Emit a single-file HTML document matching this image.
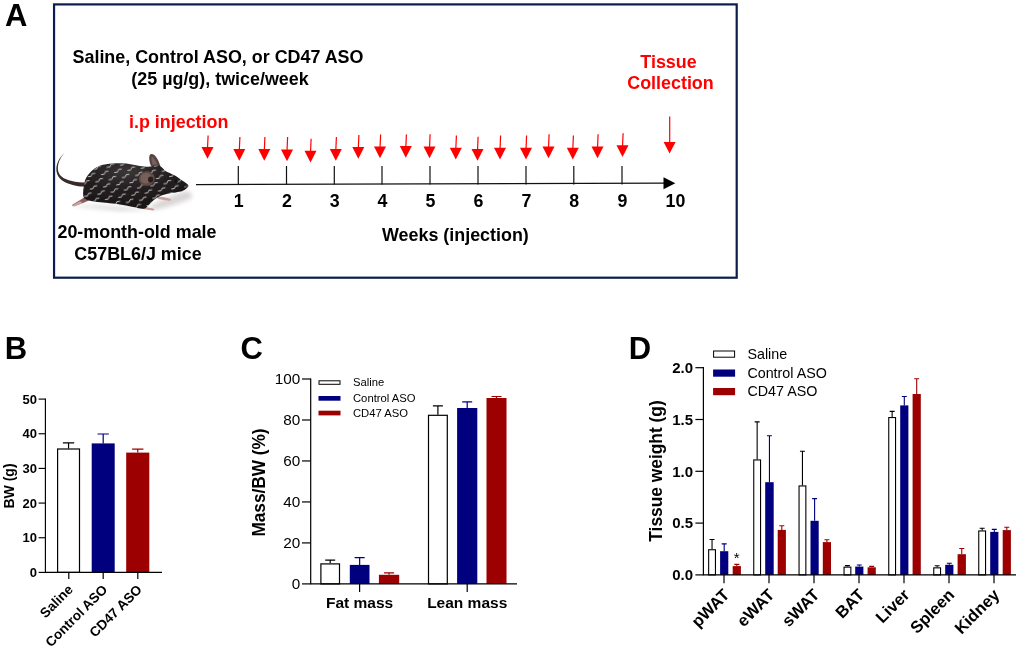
<!DOCTYPE html><html><head><meta charset="utf-8"><title>Figure</title><style>
html,body{margin:0;padding:0;background:#fff}svg{display:block}text{font-family:"Liberation Sans",Arial,sans-serif}.b{font-weight:bold}
</style></head><body>
<svg width="1020" height="649" viewBox="0 0 1020 649">
<rect width="1020" height="649" fill="#fff"/>
<text class="b" x="5" y="25.9" font-size="31">A</text>
<rect x="54.05" y="4.4" width="682.65" height="273.3" fill="none" stroke="#0c1c4c" stroke-width="2.2"/>
<text class="b" x="218" y="63" font-size="17.9" text-anchor="middle">Saline, Control ASO, or CD47 ASO</text>
<text class="b" x="220" y="85" font-size="17.9" text-anchor="middle">(25 µg/g), twice/week</text>
<text class="b" x="129" y="127.5" font-size="17.9" fill="#ff0000">i.p injection</text>
<text class="b" x="668.5" y="68" font-size="17.9" fill="#ff0000" text-anchor="middle">Tissue</text>
<text class="b" x="670.5" y="89.3" font-size="17.9" fill="#ff0000" text-anchor="middle">Collection</text>
<text class="b" x="137" y="237.8" font-size="17.9" text-anchor="middle">20-month-old male</text>
<text class="b" x="138" y="259.5" font-size="17.9" text-anchor="middle">C57BL6/J mice</text>
<text class="b" x="455.4" y="241.2" font-size="17.9" text-anchor="middle">Weeks (injection)</text>
<line x1="196" y1="184.6" x2="664" y2="183.2" stroke="#111" stroke-width="1.3"/>
<polygon points="675.3,183.2 663.5,177.2 663.5,189.2" fill="#000"/>
<line x1="238.3" y1="166" x2="238.3" y2="184.5" stroke="#111" stroke-width="1.2"/>
<text class="b" x="238.8" y="207" font-size="17.8" text-anchor="middle">1</text>
<line x1="286.5" y1="166" x2="286.5" y2="184.5" stroke="#111" stroke-width="1.2"/>
<text class="b" x="287.0" y="207" font-size="17.8" text-anchor="middle">2</text>
<line x1="334.3" y1="166" x2="334.3" y2="184.5" stroke="#111" stroke-width="1.2"/>
<text class="b" x="334.8" y="207" font-size="17.8" text-anchor="middle">3</text>
<line x1="382" y1="166" x2="382" y2="184.5" stroke="#111" stroke-width="1.2"/>
<text class="b" x="382.5" y="207" font-size="17.8" text-anchor="middle">4</text>
<line x1="430" y1="166" x2="430" y2="184.5" stroke="#111" stroke-width="1.2"/>
<text class="b" x="430.5" y="207" font-size="17.8" text-anchor="middle">5</text>
<line x1="478" y1="166" x2="478" y2="184.5" stroke="#111" stroke-width="1.2"/>
<text class="b" x="478.5" y="207" font-size="17.8" text-anchor="middle">6</text>
<line x1="526" y1="166" x2="526" y2="184.5" stroke="#111" stroke-width="1.2"/>
<text class="b" x="526.5" y="207" font-size="17.8" text-anchor="middle">7</text>
<line x1="573.8" y1="166" x2="573.8" y2="184.5" stroke="#111" stroke-width="1.2"/>
<text class="b" x="574.3" y="207" font-size="17.8" text-anchor="middle">8</text>
<line x1="622" y1="166" x2="622" y2="184.5" stroke="#111" stroke-width="1.2"/>
<text class="b" x="622.5" y="207" font-size="17.8" text-anchor="middle">9</text>
<text class="b" x="675.5" y="207" font-size="17.8" text-anchor="middle">10</text>
<line x1="208.1" y1="135.5" x2="207.5" y2="149" stroke="#ff0000" stroke-width="1.2"/>
<polygon points="201.5,147 213.5,147 207.5,158.7" fill="#ff0000"/>
<line x1="239.9" y1="137" x2="239.3" y2="151" stroke="#ff0000" stroke-width="1.2"/>
<polygon points="233.3,149 245.3,149 239.3,160.7" fill="#ff0000"/>
<line x1="264.90000000000003" y1="137" x2="264.3" y2="151" stroke="#ff0000" stroke-width="1.2"/>
<polygon points="258.3,149 270.3,149 264.3,160.7" fill="#ff0000"/>
<line x1="287.6" y1="137" x2="287" y2="151.5" stroke="#ff0000" stroke-width="1.2"/>
<polygon points="281,149.5 293,149.5 287,161.2" fill="#ff0000"/>
<line x1="311.1" y1="138.8" x2="310.5" y2="152.8" stroke="#ff0000" stroke-width="1.2"/>
<polygon points="304.5,150.8 316.5,150.8 310.5,162.5" fill="#ff0000"/>
<line x1="336.40000000000003" y1="137" x2="335.8" y2="151" stroke="#ff0000" stroke-width="1.2"/>
<polygon points="329.8,149 341.8,149 335.8,160.7" fill="#ff0000"/>
<line x1="358.90000000000003" y1="135" x2="358.3" y2="149" stroke="#ff0000" stroke-width="1.2"/>
<polygon points="352.3,147 364.3,147 358.3,158.7" fill="#ff0000"/>
<line x1="380.6" y1="134.5" x2="380" y2="148.5" stroke="#ff0000" stroke-width="1.2"/>
<polygon points="374,146.5 386,146.5 380,158.2" fill="#ff0000"/>
<line x1="406.40000000000003" y1="134.5" x2="405.8" y2="148" stroke="#ff0000" stroke-width="1.2"/>
<polygon points="399.8,146 411.8,146 405.8,157.7" fill="#ff0000"/>
<line x1="430.1" y1="134.3" x2="429.5" y2="148.5" stroke="#ff0000" stroke-width="1.2"/>
<polygon points="423.5,146.5 435.5,146.5 429.5,158.2" fill="#ff0000"/>
<line x1="456.40000000000003" y1="135.5" x2="455.8" y2="149.8" stroke="#ff0000" stroke-width="1.2"/>
<polygon points="449.8,147.8 461.8,147.8 455.8,159.5" fill="#ff0000"/>
<line x1="478.1" y1="136.8" x2="477.5" y2="151" stroke="#ff0000" stroke-width="1.2"/>
<polygon points="471.5,149 483.5,149 477.5,160.7" fill="#ff0000"/>
<line x1="500.6" y1="135.5" x2="500" y2="149.8" stroke="#ff0000" stroke-width="1.2"/>
<polygon points="494,147.8 506,147.8 500,159.5" fill="#ff0000"/>
<line x1="526.6" y1="135.5" x2="526" y2="149.8" stroke="#ff0000" stroke-width="1.2"/>
<polygon points="520,147.8 532,147.8 526,159.5" fill="#ff0000"/>
<line x1="549.1" y1="134.3" x2="548.5" y2="148.5" stroke="#ff0000" stroke-width="1.2"/>
<polygon points="542.5,146.5 554.5,146.5 548.5,158.2" fill="#ff0000"/>
<line x1="573.4" y1="135.5" x2="572.8" y2="149.8" stroke="#ff0000" stroke-width="1.2"/>
<polygon points="566.8,147.8 578.8,147.8 572.8,159.5" fill="#ff0000"/>
<line x1="598.1" y1="134.3" x2="597.5" y2="148.5" stroke="#ff0000" stroke-width="1.2"/>
<polygon points="591.5,146.5 603.5,146.5 597.5,158.2" fill="#ff0000"/>
<line x1="623.1" y1="133.3" x2="622.5" y2="147.3" stroke="#ff0000" stroke-width="1.2"/>
<polygon points="616.5,145.3 628.5,145.3 622.5,157.0" fill="#ff0000"/>
<line x1="669.7" y1="116.5" x2="669.7" y2="145" stroke="#ff0000" stroke-width="1.2"/>
<polygon points="663.6,142 675.6,142 669.6,153.6" fill="#ff0000"/>
<g id="mouse">
<defs>
<pattern id="sq" width="13.4" height="12.6" patternUnits="userSpaceOnUse" patternTransform="translate(85 160) rotate(-9)"><path d="M0.6 4.4h2.9l1.3-2.3h2.9 M7.3 10.7h2.9l1.3-2.3h2.9 M-6.1 10.7h2.9l1.3-2.3h2.9" fill="none" stroke="#d2d2d2" stroke-width="0.9" stroke-linecap="round" stroke-linejoin="round"/></pattern>
<radialGradient id="mb" cx="0.42" cy="0.18" r="0.75"><stop offset="0" stop-color="#3b3637"/><stop offset="0.45" stop-color="#262122"/><stop offset="1" stop-color="#1a1617"/></radialGradient>
<filter id="bl" x="-20%" y="-50%" width="140%" height="200%"><feGaussianBlur stdDeviation="2.2"/></filter>
<filter id="sb" x="-5%" y="-5%" width="110%" height="110%"><feGaussianBlur stdDeviation="0.35"/></filter>
</defs>
<path d="M150 206 C160 200 172 195 186 191 C192 192 194 196 190 199 C178 204 165 208 152 210 Z" fill="#d9d6d6" filter="url(#bl)"/>
<path d="M70 206 C90 204 120 206 150 210 L120 211 Z" fill="#dddada" filter="url(#bl)"/>
<g filter="url(#sb)">
<path d="M64.9 152.6 C59.3 158.6 57 165.3 58.2 171.3 C59.6 177.3 66.3 180.2 75 181.8 C78.5 182.4 81.5 182.5 85.5 182.4 L86 186.4 C81 186.6 77.3 186.2 73.6 185.2 C64.6 183 57.9 179 56.6 172 C55.5 165 58.6 158.2 64.9 152.6 Z" fill="#3a2b2c"/>
<path d="M151 166 C149.3 162 148.6 157.5 149.7 154.9 C150.6 153.4 152.8 153.7 154.5 155.2 C157 157.5 159 161.5 160.3 166 Z" fill="#54433f"/>
<path d="M152.6 165 C151.4 161.5 151 158.2 151.8 156.6 C153.5 157 156 160.8 157.4 164.6 Z" fill="#75605a"/>
<path d="M85.5 196.5 C81.5 199 77.5 201.8 72.6 204.6 C71.8 205.6 72.6 206.6 74 206.3 C79 204.8 84.5 202.5 89 200.6 Z" fill="#8a5f5c"/>
<path d="M80 201.2 C77.5 202.8 75 204 72.8 205 C72.6 206.2 73.4 206.5 74.4 206.2 C77.2 205.3 80 204.2 82.6 203 Z" fill="#cfa6a0"/>
<path d="M158.5 196.5 C162 196.7 166.5 197.6 170.6 199 C171.4 199.9 170.8 200.8 169.6 200.7 C165.5 200.4 161.5 199.7 157.6 198.8 Z" fill="#c9a09a"/>
<path d="M142.5 207 C146.5 207 150.5 207.7 153.8 208.8 C154.8 209.6 154.2 210.5 153 210.4 C149.3 210.2 145.6 209.6 142 208.8 Z" fill="#c9a09a"/>
<path d="M84.5 182.7 C85 179 88 174 92.1 170.4 C95 168 97.5 166.8 100.3 165.6 C104 164.3 108 163.7 112.6 163.5 C117 163.2 122 163.2 126.4 163.5 C130 163.9 134 164.8 137.3 165.6 C141 166.4 145 166.9 148.3 166.7 C152 166.4 156 164.8 159.3 165.6 C161.5 166.5 163 168.8 164.8 170.4 C168 172.5 171.5 173.6 174.4 175.2 C177.5 177 180 178.9 182.6 180.7 C184.5 182 186.8 183.3 187.9 184.8 C188.8 185.8 188.4 186.8 187.4 187.5 C186 188.8 184.5 190.2 182.6 191 C180.5 191.8 178 192 175.8 192.4 C173 192.8 170 193.1 167.5 193.7 C165 194.3 162.8 194.9 160.7 195.8 C158.2 197 156 198.4 153.8 199.9 C151.8 201.6 150 203.6 148.3 205.4 C147 206.6 145.8 208.3 144.2 208.8 C140 209.2 136 207.5 131.9 206.8 C127 205.8 122 204.8 116.8 204 C112 203.4 107.5 203 103 202.6 C99.3 202.3 95.5 202 92.1 201.3 C89.3 200.7 86.3 199.9 84.5 198.5 C83.2 197 83.1 195 83.1 193 C83.1 190.7 83.4 188.4 83.8 186.2 Z" fill="url(#mb)"/>
<path d="M84.5 182.7 C85 179 88 174 92.1 170.4 C95 168 97.5 166.8 100.3 165.6 C104 164.3 108 163.7 112.6 163.5 C117 163.2 122 163.2 126.4 163.5 C130 163.9 134 164.8 137.3 165.6 C141 166.4 145 166.9 148.3 166.7 C152 166.4 156 164.8 159.3 165.6 C161.5 166.5 163 168.8 164.8 170.4 C168 172.5 171.5 173.6 174.4 175.2 C177.5 177 180 178.9 182.6 180.7 C184.5 182 186.8 183.3 187.9 184.8 C188.8 185.8 188.4 186.8 187.4 187.5 C186 188.8 184.5 190.2 182.6 191 C180.5 191.8 178 192 175.8 192.4 C173 192.8 170 193.1 167.5 193.7 C165 194.3 162.8 194.9 160.7 195.8 C158.2 197 156 198.4 153.8 199.9 C151.8 201.6 150 203.6 148.3 205.4 C147 206.6 145.8 208.3 144.2 208.8 C140 209.2 136 207.5 131.9 206.8 C127 205.8 122 204.8 116.8 204 C112 203.4 107.5 203 103 202.6 C99.3 202.3 95.5 202 92.1 201.3 C89.3 200.7 86.3 199.9 84.5 198.5 C83.2 197 83.1 195 83.1 193 C83.1 190.7 83.4 188.4 83.8 186.2 Z" fill="url(#sq)"/>
<circle cx="176.3" cy="181.2" r="1.3" fill="#0d0b0b"/>
<ellipse cx="186.6" cy="185.8" rx="1.5" ry="1.3" fill="#4a2f30"/>
<ellipse cx="146.8" cy="178.6" rx="8" ry="7.2" fill="#5e4b47" transform="rotate(-12 146.8 178.6)"/>
<ellipse cx="146.2" cy="178.2" rx="5.8" ry="5.2" fill="#74605a" transform="rotate(-12 146.2 178.2)"/>
<ellipse cx="150.6" cy="179.6" rx="2.6" ry="3" fill="#2c1f1f"/>
</g>
</g>
<text class="b" x="4.7" y="358.6" font-size="31">B</text>
<line x1="38.6" y1="572.4" x2="45.4" y2="572.4" stroke="#000" stroke-width="1.15"/>
<text class="b" x="36.9" y="577.0" font-size="13" text-anchor="end">0</text>
<line x1="38.6" y1="537.74" x2="45.4" y2="537.74" stroke="#000" stroke-width="1.15"/>
<text class="b" x="36.9" y="542.34" font-size="13" text-anchor="end">10</text>
<line x1="38.6" y1="503.08" x2="45.4" y2="503.08" stroke="#000" stroke-width="1.15"/>
<text class="b" x="36.9" y="507.68" font-size="13" text-anchor="end">20</text>
<line x1="38.6" y1="468.41999999999996" x2="45.4" y2="468.41999999999996" stroke="#000" stroke-width="1.15"/>
<text class="b" x="36.9" y="473.02" font-size="13" text-anchor="end">30</text>
<line x1="38.6" y1="433.76" x2="45.4" y2="433.76" stroke="#000" stroke-width="1.15"/>
<text class="b" x="36.9" y="438.36" font-size="13" text-anchor="end">40</text>
<line x1="38.6" y1="399.09999999999997" x2="45.4" y2="399.09999999999997" stroke="#000" stroke-width="1.15"/>
<text class="b" x="36.9" y="403.7" font-size="13" text-anchor="end">50</text>
<path d="M68.55 448.4 V442.9 M62.9 442.9 H74.2" stroke="#000" stroke-width="1.2" fill="none"/>
<rect x="57.6" y="449.0" width="21.899999999999995" height="123.4" fill="#fff" stroke="#000" stroke-width="1.2"/>
<path d="M103.2 443.4 V434 M97.55 434 H108.85000000000001" stroke="#00007f" stroke-width="1.2" fill="none"/>
<rect x="91.7" y="443.4" width="23.0" height="129.0" fill="#00007f"/>
<path d="M137.75 452.6 V449.2 M132.1 449.2 H143.4" stroke="#9c0000" stroke-width="1.2" fill="none"/>
<rect x="126.2" y="452.6" width="23.10000000000001" height="119.79999999999995" fill="#9c0000"/>
<path d="M45.4 398.5 V572.4 H162" stroke="#000" stroke-width="1.15" fill="none"/>
<line x1="68.8" y1="572.4" x2="68.8" y2="579" stroke="#000" stroke-width="1.2"/>
<text class="b" font-size="13.6" text-anchor="end" transform="translate(73.8,590.4) rotate(-45)">Saline</text>
<line x1="103.2" y1="572.4" x2="103.2" y2="579" stroke="#000" stroke-width="1.2"/>
<text class="b" font-size="13.6" text-anchor="end" transform="translate(108.2,590.4) rotate(-45)">Control ASO</text>
<line x1="137.8" y1="572.4" x2="137.8" y2="579" stroke="#000" stroke-width="1.2"/>
<text class="b" font-size="13.6" text-anchor="end" transform="translate(142.8,590.4) rotate(-45)">CD47 ASO</text>
<text class="b" font-size="14" text-anchor="middle" transform="translate(14,486) rotate(-90)">BW (g)</text>
<text class="b" x="240.4" y="358.5" font-size="31">C</text>
<line x1="302" y1="583.9" x2="310.7" y2="583.9" stroke="#000" stroke-width="1.2"/>
<text x="300.3" y="589.3" font-size="15.3" text-anchor="end">0</text>
<line x1="302" y1="542.92" x2="310.7" y2="542.92" stroke="#000" stroke-width="1.2"/>
<text x="300.3" y="548.3199999999999" font-size="15.3" text-anchor="end">20</text>
<line x1="302" y1="501.94" x2="310.7" y2="501.94" stroke="#000" stroke-width="1.2"/>
<text x="300.3" y="507.34" font-size="15.3" text-anchor="end">40</text>
<line x1="302" y1="460.96" x2="310.7" y2="460.96" stroke="#000" stroke-width="1.2"/>
<text x="300.3" y="466.35999999999996" font-size="15.3" text-anchor="end">60</text>
<line x1="302" y1="419.98" x2="310.7" y2="419.98" stroke="#000" stroke-width="1.2"/>
<text x="300.3" y="425.38" font-size="15.3" text-anchor="end">80</text>
<line x1="302" y1="379.0" x2="310.7" y2="379.0" stroke="#000" stroke-width="1.2"/>
<text x="300.3" y="384.4" font-size="15.3" text-anchor="end">100</text>
<path d="M330.20000000000005 563.3 V560.2 M325.20000000000005 560.2 H335.20000000000005" stroke="#000" stroke-width="1.2" fill="none"/>
<rect x="320.90000000000003" y="563.9" width="18.600000000000012" height="20.00000000000002" fill="#fff" stroke="#000" stroke-width="1.2"/>
<path d="M359.65 564.9 V557.6 M354.65 557.6 H364.65" stroke="#00007f" stroke-width="1.2" fill="none"/>
<rect x="349.8" y="564.9" width="19.69999999999999" height="19.0" fill="#00007f"/>
<path d="M389.04999999999995 574.8 V572.9 M384.04999999999995 572.9 H394.04999999999995" stroke="#9c0000" stroke-width="1.2" fill="none"/>
<rect x="378.9" y="574.8" width="20.30000000000001" height="9.100000000000023" fill="#9c0000"/>
<path d="M437.9 414.7 V405.9 M432.9 405.9 H442.9" stroke="#000" stroke-width="1.2" fill="none"/>
<rect x="428.5" y="415.3" width="18.8" height="168.6" fill="#fff" stroke="#000" stroke-width="1.2"/>
<path d="M467.20000000000005 408 V401.9 M462.20000000000005 401.9 H472.20000000000005" stroke="#00007f" stroke-width="1.2" fill="none"/>
<rect x="457.1" y="408" width="20.19999999999999" height="175.89999999999998" fill="#00007f"/>
<path d="M496.5 398 V396.5 M491.5 396.5 H501.5" stroke="#9c0000" stroke-width="1.2" fill="none"/>
<rect x="486.5" y="398" width="20.0" height="185.89999999999998" fill="#9c0000"/>
<path d="M310.7 378.4 V583.9 H517" stroke="#000" stroke-width="1.2" fill="none"/>
<line x1="359.6" y1="583.9" x2="359.6" y2="592" stroke="#000" stroke-width="1.2"/>
<text class="b" x="359.6" y="608.4" font-size="15.5" text-anchor="middle">Fat mass</text>
<line x1="467.2" y1="583.9" x2="467.2" y2="592" stroke="#000" stroke-width="1.2"/>
<text class="b" x="467.2" y="608.4" font-size="15.5" text-anchor="middle">Lean mass</text>
<text class="b" font-size="17.6" text-anchor="middle" transform="translate(264.8,482.5) rotate(-90) scale(0.98,1)">Mass/BW (%)</text>
<rect x="319" y="380.8" width="21" height="3.5" fill="#fff" stroke="#000" stroke-width="1"/>
<rect x="318.5" y="396" width="22" height="4.7" fill="#00007f"/>
<rect x="318.5" y="410.7" width="22" height="4.7" fill="#9c0000"/>
<text x="353" y="386.4" font-size="11.25">Saline</text>
<text x="353" y="401.7" font-size="11.25">Control ASO</text>
<text x="353" y="416.5" font-size="11.25">CD47 ASO</text>
<text class="b" x="628.8" y="358.6" font-size="31">D</text>
<line x1="695.4" y1="574.9" x2="703.4" y2="574.9" stroke="#000" stroke-width="1.2"/>
<text class="b" x="693" y="580.1999999999999" font-size="15" text-anchor="end">0.0</text>
<line x1="695.4" y1="523.1" x2="703.4" y2="523.1" stroke="#000" stroke-width="1.2"/>
<text class="b" x="693" y="528.4" font-size="15" text-anchor="end">0.5</text>
<line x1="695.4" y1="471.29999999999995" x2="703.4" y2="471.29999999999995" stroke="#000" stroke-width="1.2"/>
<text class="b" x="693" y="476.59999999999997" font-size="15" text-anchor="end">1.0</text>
<line x1="695.4" y1="419.5" x2="703.4" y2="419.5" stroke="#000" stroke-width="1.2"/>
<text class="b" x="693" y="424.8" font-size="15" text-anchor="end">1.5</text>
<line x1="695.4" y1="367.7" x2="703.4" y2="367.7" stroke="#000" stroke-width="1.2"/>
<text class="b" x="693" y="373.0" font-size="15" text-anchor="end">2.0</text>
<path d="M712.05 549.2 V539.5 M709.55 539.5 H714.55" stroke="#000" stroke-width="1.1" fill="none"/>
<rect x="708.65" y="549.75" width="6.799999999999978" height="25.14999999999993" fill="#fff" stroke="#000" stroke-width="1.1"/>
<path d="M724.2 551.2 V543.9 M721.7 543.9 H726.7" stroke="#00007f" stroke-width="1.1" fill="none"/>
<rect x="720.1" y="551.2" width="8.199999999999932" height="23.699999999999932" fill="#00007f"/>
<path d="M736.8 566.1 V564.4 M734.3 564.4 H739.3" stroke="#9c0000" stroke-width="1.1" fill="none"/>
<rect x="732.7" y="566.1" width="8.199999999999932" height="8.799999999999955" fill="#9c0000"/>
<path d="M757.1500000000001 459.4 V421.9 M754.6500000000001 421.9 H759.6500000000001" stroke="#000" stroke-width="1.1" fill="none"/>
<rect x="753.75" y="459.95" width="6.799999999999978" height="114.95" fill="#fff" stroke="#000" stroke-width="1.1"/>
<path d="M769.45 482.2 V435.7 M766.95 435.7 H771.95" stroke="#00007f" stroke-width="1.1" fill="none"/>
<rect x="765.2" y="482.2" width="8.5" height="92.69999999999999" fill="#00007f"/>
<path d="M781.8 529.9 V525.8 M779.3 525.8 H784.3" stroke="#9c0000" stroke-width="1.1" fill="none"/>
<rect x="777.7" y="529.9" width="8.199999999999932" height="45.0" fill="#9c0000"/>
<path d="M802.45 485.4 V451.2 M799.95 451.2 H804.95" stroke="#000" stroke-width="1.1" fill="none"/>
<rect x="799.05" y="485.95" width="6.799999999999978" height="88.95" fill="#fff" stroke="#000" stroke-width="1.1"/>
<path d="M814.6 520.8 V498.6 M812.1 498.6 H817.1" stroke="#00007f" stroke-width="1.1" fill="none"/>
<rect x="810.5" y="520.8" width="8.200000000000045" height="54.10000000000002" fill="#00007f"/>
<path d="M826.9 542.1 V539.8 M824.4 539.8 H829.4" stroke="#9c0000" stroke-width="1.1" fill="none"/>
<rect x="822.8" y="542.1" width="8.200000000000045" height="32.799999999999955" fill="#9c0000"/>
<path d="M847.45 566.6 V565.6 M844.95 565.6 H849.95" stroke="#000" stroke-width="1.1" fill="none"/>
<rect x="844.05" y="567.15" width="6.799999999999978" height="7.749999999999955" fill="#fff" stroke="#000" stroke-width="1.1"/>
<path d="M859.3 566.6 V565 M856.8 565 H861.8" stroke="#00007f" stroke-width="1.1" fill="none"/>
<rect x="855.2" y="566.6" width="8.199999999999932" height="8.299999999999955" fill="#00007f"/>
<path d="M871.7 567.3 V566.4 M869.2 566.4 H874.2" stroke="#9c0000" stroke-width="1.1" fill="none"/>
<rect x="867.6" y="567.3" width="8.199999999999932" height="7.600000000000023" fill="#9c0000"/>
<path d="M892.1500000000001 417 V411.4 M889.6500000000001 411.4 H894.6500000000001" stroke="#000" stroke-width="1.1" fill="none"/>
<rect x="888.75" y="417.55" width="6.799999999999978" height="157.34999999999997" fill="#fff" stroke="#000" stroke-width="1.1"/>
<path d="M904.3 405.4 V396.5 M901.8 396.5 H906.8" stroke="#00007f" stroke-width="1.1" fill="none"/>
<rect x="900.2" y="405.4" width="8.199999999999932" height="169.5" fill="#00007f"/>
<path d="M916.7 394 V378.8 M914.2 378.8 H919.2" stroke="#9c0000" stroke-width="1.1" fill="none"/>
<rect x="912.6" y="394" width="8.199999999999932" height="180.89999999999998" fill="#9c0000"/>
<path d="M937.1500000000001 567.3 V565.8 M934.6500000000001 565.8 H939.6500000000001" stroke="#000" stroke-width="1.1" fill="none"/>
<rect x="933.75" y="567.8499999999999" width="6.799999999999978" height="7.050000000000023" fill="#fff" stroke="#000" stroke-width="1.1"/>
<path d="M949.3 564.8 V563.2 M946.8 563.2 H951.8" stroke="#00007f" stroke-width="1.1" fill="none"/>
<rect x="945.2" y="564.8" width="8.199999999999932" height="10.100000000000023" fill="#00007f"/>
<path d="M961.75 554.2 V548.5 M959.25 548.5 H964.25" stroke="#9c0000" stroke-width="1.1" fill="none"/>
<rect x="957.6" y="554.2" width="8.299999999999955" height="20.699999999999932" fill="#9c0000"/>
<path d="M982.1500000000001 530.4 V528.3 M979.6500000000001 528.3 H984.6500000000001" stroke="#000" stroke-width="1.1" fill="none"/>
<rect x="978.75" y="530.9499999999999" width="6.799999999999978" height="43.95" fill="#fff" stroke="#000" stroke-width="1.1"/>
<path d="M994.3 531.9 V529.4 M991.8 529.4 H996.8" stroke="#00007f" stroke-width="1.1" fill="none"/>
<rect x="990.2" y="531.9" width="8.199999999999932" height="43.0" fill="#00007f"/>
<path d="M1006.8 530.1 V527.3 M1004.3 527.3 H1009.3" stroke="#9c0000" stroke-width="1.1" fill="none"/>
<rect x="1002.7" y="530.1" width="8.199999999999932" height="44.799999999999955" fill="#9c0000"/>
<path d="M703.4 367.1 V574.9 H1016" stroke="#000" stroke-width="1.2" fill="none"/>
<line x1="724" y1="574.9" x2="724" y2="583.3" stroke="#000" stroke-width="1.2"/>
<text class="b" font-size="16.6" text-anchor="end" transform="translate(730.5,595.9) rotate(-45)">pWAT</text>
<line x1="769" y1="574.9" x2="769" y2="583.3" stroke="#000" stroke-width="1.2"/>
<text class="b" font-size="16.6" text-anchor="end" transform="translate(775.5,595.9) rotate(-45)">eWAT</text>
<line x1="814" y1="574.9" x2="814" y2="583.3" stroke="#000" stroke-width="1.2"/>
<text class="b" font-size="16.6" text-anchor="end" transform="translate(820.5,595.9) rotate(-45)">sWAT</text>
<line x1="859" y1="574.9" x2="859" y2="583.3" stroke="#000" stroke-width="1.2"/>
<text class="b" font-size="16.6" text-anchor="end" transform="translate(865.5,595.9) rotate(-45)">BAT</text>
<line x1="904" y1="574.9" x2="904" y2="583.3" stroke="#000" stroke-width="1.2"/>
<text class="b" font-size="16.6" text-anchor="end" transform="translate(910.5,595.9) rotate(-45)">Liver</text>
<line x1="949" y1="574.9" x2="949" y2="583.3" stroke="#000" stroke-width="1.2"/>
<text class="b" font-size="16.6" text-anchor="end" transform="translate(955.5,595.9) rotate(-45)">Spleen</text>
<line x1="994" y1="574.9" x2="994" y2="583.3" stroke="#000" stroke-width="1.2"/>
<text class="b" font-size="16.6" text-anchor="end" transform="translate(1000.5,595.9) rotate(-45)">Kidney</text>
<text x="736.7" y="563" font-size="15" text-anchor="middle">*</text>
<text class="b" font-size="18" text-anchor="middle" transform="translate(661.8,471) rotate(-90) scale(0.965,1)">Tissue weight (g)</text>
<rect x="713.6" y="351" width="21" height="6.2" fill="#fff" stroke="#000" stroke-width="1"/>
<rect x="713.1" y="369.5" width="22" height="7.2" fill="#00007f"/>
<rect x="713.1" y="388" width="22" height="7.2" fill="#9c0000"/>
<text x="747.4" y="358.6" font-size="14.3">Saline</text>
<text x="747.4" y="377.6" font-size="14.3">Control ASO</text>
<text x="747.4" y="396.2" font-size="14.3">CD47 ASO</text>
</svg></body></html>
